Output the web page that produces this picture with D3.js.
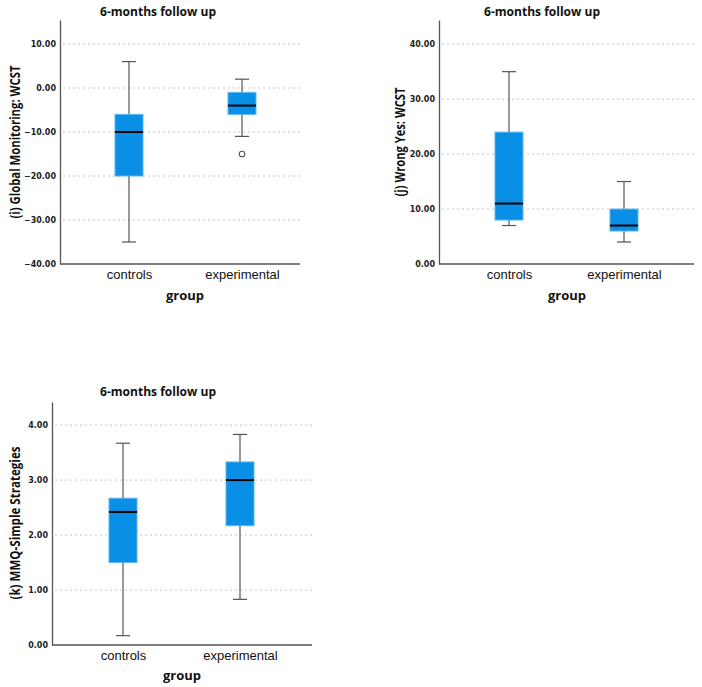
<!DOCTYPE html>
<html>
<head>
<meta charset="utf-8">
<script src="https://cdnjs.cloudflare.com/ajax/libs/d3/7.8.5/d3.min.js"></script>
<style>
  body { margin: 0; background: #fff; }
  svg { font-family: "Open Sans", sans-serif; }
</style>
</head>
<body>
<script>
// categories
const groups = ["controls", "experimental"];

// box stats per group: [lower whisker, q1, median, q3, upper whisker]
const globalMonitoringStats = [[-35, -20, -10, -6, 6], [-11, -6, -4, -1, 2]];
const globalMonitoringOutliers = [[], [-15]];
const globalMonitoringTicks = [-40, -30, -20, -10, 0, 10];

const wrongYesStats = [[7, 8, 11, 24, 35], [4, 6, 7, 10, 15]];
const wrongYesOutliers = [[], []];
const wrongYesTicks = [0, 10, 20, 30, 40];

const simpleStrategiesStats = [[0.17, 1.5, 2.42, 2.67, 3.67], [0.83, 2.17, 3.0, 3.33, 3.83]];
const simpleStrategiesOutliers = [[], []];
const simpleStrategiesTicks = [0, 1, 2, 3, 4];

const title = "6-months follow up";

var panels = [
  {label: "(i) Global Monitoring: WCST", stats: globalMonitoringStats, out: globalMonitoringOutliers,
   ticks: globalMonitoringTicks, domain: [-40, 15.45], left: 60, right: 300, top: 20, bottom: 264,
   xr: [69, 182], titleX: 158, titleY: 16, groupX: 185, groupY: 300, labelX: 15, labelY: 142, labelLen: 153},
  {label: "(j) Wrong Yes: WCST", stats: wrongYesStats, out: wrongYesOutliers,
   ticks: wrongYesTicks, domain: [0, 44.4], left: 439, right: 694, top: 20, bottom: 264,
   xr: [70, 185], titleX: 542, titleY: 16, groupX: 567, groupY: 300, labelX: 400, labelY: 142, labelLen: 109},
  {label: "(k) MMQ-Simple Strategies", stats: simpleStrategiesStats, out: simpleStrategiesOutliers,
   ticks: simpleStrategiesTicks, domain: [0, 4.42], left: 52, right: 312, top: 402, bottom: 645,
   xr: [71, 188], titleX: 158, titleY: 396, groupX: 182, groupY: 680, labelX: 15, labelY: 523, labelLen: 153}
];

var svg = d3.select("body").append("svg")
  .attr("width", 702)
  .attr("height", 687);

var boxW = 28, capW = 14;

panels.forEach(function(p){
  var g = svg.append("g");

  var y = d3.scaleLinear().domain(p.domain).range([p.bottom, p.top]);
  var x = d3.scalePoint().domain(groups).range([p.left + p.xr[0], p.left + p.xr[1]]);

  // gridlines
  g.selectAll("line.grid")
    .data(p.ticks.filter(function(t){ return t !== p.domain[0]; }))
    .enter().append("line")
    .attr("class", "grid")
    .attr("x1", p.left + 3).attr("x2", p.right)
    .attr("y1", function(d){ return y(d); })
    .attr("y2", function(d){ return y(d); })
    .attr("stroke", "#c4c4c4")
    .attr("stroke-width", 1)
    .attr("stroke-dasharray", "2,3");

  // y axis
  var yAxis = d3.axisLeft(y).tickValues(p.ticks).tickSize(0).tickPadding(4)
    .tickFormat(d3.format(".2f"));
  var ya = g.append("g").attr("transform", "translate(" + p.left + ",0)").call(yAxis);
  ya.select(".domain").attr("stroke", "#555").attr("stroke-width", 1.3);
  ya.selectAll("text").attr("font-size", "8px").attr("fill", "#222")
    .attr("font-weight", 600).attr("font-family", "'DejaVu Sans', sans-serif");

  // x axis
  var xAxis = d3.axisBottom(x).tickSize(0).tickPadding(6);
  var xa = g.append("g").attr("transform", "translate(0," + p.bottom + ")").call(xAxis);
  xa.select(".domain").attr("d", "M" + p.left + ",0H" + p.right)
    .attr("stroke", "#555").attr("stroke-width", 1.3);
  xa.selectAll("text").attr("font-size", "13px").attr("fill", "#111");

  var boxes = g.selectAll("g.box")
    .data(groups.map(function(k, i){ return {key: k, s: p.stats[i], out: p.out[i]}; }))
    .enter().append("g").attr("class", "box");

  // whiskers
  boxes.append("line")
    .attr("x1", function(d){ return x(d.key); })
    .attr("x2", function(d){ return x(d.key); })
    .attr("y1", function(d){ return y(d.s[0]); })
    .attr("y2", function(d){ return y(d.s[4]); })
    .attr("stroke", "#555").attr("stroke-width", 1.2);
  [0, 4].forEach(function(j){
    boxes.append("line")
      .attr("x1", function(d){ return x(d.key) - capW / 2; })
      .attr("x2", function(d){ return x(d.key) + capW / 2; })
      .attr("y1", function(d){ return y(d.s[j]); })
      .attr("y2", function(d){ return y(d.s[j]); })
      .attr("stroke", "#555").attr("stroke-width", 1.2);
  });

  // box
  boxes.append("rect")
    .attr("x", function(d){ return x(d.key) - boxW / 2; })
    .attr("width", boxW)
    .attr("y", function(d){ return y(d.s[3]); })
    .attr("height", function(d){ return y(d.s[1]) - y(d.s[3]); })
    .attr("fill", "#0a8fe6")
    .attr("stroke", "#5cb6f0")
    .attr("stroke-width", 1);

  // median
  boxes.append("line")
    .attr("x1", function(d){ return x(d.key) - boxW / 2; })
    .attr("x2", function(d){ return x(d.key) + boxW / 2; })
    .attr("y1", function(d){ return y(d.s[2]); })
    .attr("y2", function(d){ return y(d.s[2]); })
    .attr("stroke", "#000").attr("stroke-width", 2);

  // outliers
  boxes.selectAll("circle")
    .data(function(d){ return d.out.map(function(v){ return {key: d.key, v: v}; }); })
    .enter().append("circle")
    .attr("cx", function(d){ return x(d.key); })
    .attr("cy", function(d){ return y(d.v); })
    .attr("r", 2.8)
    .attr("fill", "#fff")
    .attr("stroke", "#555")
    .attr("stroke-width", 1.1);

  // titles and labels
  g.append("text")
    .attr("x", p.titleX).attr("y", p.titleY)
    .attr("text-anchor", "middle")
    .attr("font-size", "12px").attr("font-weight", "bold").attr("fill", "#111")
    .attr("textLength", 116).attr("lengthAdjust", "spacingAndGlyphs")
    .text(title);
  g.append("text")
    .attr("x", p.groupX).attr("y", p.groupY)
    .attr("text-anchor", "middle")
    .attr("font-size", "13px").attr("font-weight", "bold").attr("fill", "#111")
    .text("group");
  g.append("text")
    .attr("transform", "translate(" + (p.labelX + 5) + "," + p.labelY + ")rotate(-90)")
    .attr("text-anchor", "middle")
    .attr("font-size", "13.5px").attr("font-weight", "bold").attr("fill", "#111")
    .attr("textLength", p.labelLen).attr("lengthAdjust", "spacingAndGlyphs")
    .text(p.label);
});
</script>
</body>
</html>
